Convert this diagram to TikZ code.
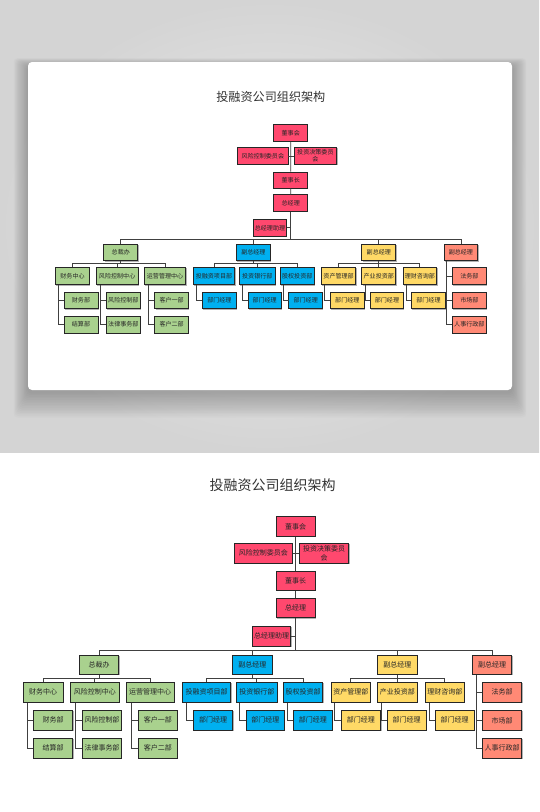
\documentclass[tikz,border=0pt]{standalone}
\usepackage{fontspec}
\setmainfont{Noto Sans CJK SC}
\usetikzlibrary{shadows}
\definecolor{cpink}{RGB}{255,72,110}
\definecolor{cgreen}{RGB}{169,209,142}
\definecolor{cblue}{RGB}{0,176,240}
\definecolor{cyellow}{RGB}{255,217,102}
\definecolor{csalmon}{RGB}{255,137,117}
\definecolor{bgin}{RGB}{236,236,236}
\definecolor{bgout}{RGB}{212,212,212}
\tikzset{
  box/.style={draw=black!85, line width=0.8pt, inner sep=0pt, minimum height=19.4pt,
    text=black!85, font=\fontsize{7}{8.3}\selectfont, align=center,
    drop shadow={shadow xshift=0.8pt, shadow yshift=-0.8pt, fill=black, opacity=0.3}},
  pinkbox/.style={box, fill=cpink},
  greenbox/.style={box, fill=cgreen},
  bluebox/.style={box, fill=cblue},
  yellowbox/.style={box, fill=cyellow},
  salmonbox/.style={box, fill=csalmon},
  ln/.style={draw=black!75, line width=0.8pt},
  ttl/.style={font=\fontsize{14}{16}\selectfont, text=black!80, inner sep=0pt},
}
\newcommand\orgchart{%
  \coordinate (bus) at (0,650);
  \coordinate (sub) at (0,678);
  \node[ttl] (title) at (272.5,485) {投融资公司组织架构};
  % pink column
  \node[pinkbox, minimum width=39] (dsh) at (295.5,526.5) {董事会};
  \node[pinkbox, minimum width=58, minimum height=20] (fx) at (263.3,553.3) {风险控制委员会};
  \node[pinkbox, minimum width=49.4, minimum height=20] (tz) at (324,553.3) {投资决策委员\\会};
  \node[pinkbox, minimum width=39, minimum height=18.5] (dsz) at (295.5,581) {董事长};
  \node[pinkbox, minimum width=39] (zjl) at (295.5,608) {总经理};
  \node[pinkbox, minimum width=38.4] (zl) at (271.5,636.3) {总经理助理};
  % level 2
  \node[greenbox, minimum width=39.4] (zcb) at (99,664.7) {总裁办};
  \node[bluebox, minimum width=39.3] (fz1) at (252.3,664.7) {副总经理};
  \node[yellowbox, minimum width=39.3] (fz2) at (397.3,664.7) {副总经理};
  \node[salmonbox, minimum width=39] (fz3) at (492.2,664.7) {副总经理};
  % level 3
  \node[greenbox, minimum width=39.7, minimum height=20] (cwzx) at (43.2,692.3) {财务中心};
  \node[greenbox, minimum width=48.3, minimum height=20] (fkzx) at (94.8,692.3) {风险控制中心};
  \node[greenbox, minimum width=47.7, minimum height=20] (yyzx) at (150.2,692.3) {运营管理中心};
  \node[bluebox, minimum width=48, minimum height=20] (trz) at (206.7,692.3) {投融资项目部};
  \node[bluebox, minimum width=41.7, minimum height=20] (tzyh) at (256.8,692.3) {投资银行部};
  \node[bluebox, minimum width=39.4, minimum height=20] (gq) at (303,692.3) {股权投资部};
  \node[yellowbox, minimum width=39.7, minimum height=20] (zc) at (350.8,692.3) {资产管理部};
  \node[yellowbox, minimum width=39.3, minimum height=20] (cy) at (397.3,692.3) {产业投资部};
  \node[yellowbox, minimum width=39, minimum height=20] (lc) at (444.8,692.3) {理财咨询部};
  \node[salmonbox, minimum width=39.4, minimum height=20] (fw) at (502,692.3) {法务部};
  % level 4
  \node[greenbox, minimum width=39.4] (cwb) at (53,720.3) {财务部};
  \node[greenbox, minimum width=39.4] (jsb) at (53,748.3) {结算部};
  \node[greenbox, minimum width=38.6] (fkb) at (102,720.3) {风险控制部};
  \node[greenbox, minimum width=38.6] (flb) at (102,748.3) {法律事务部};
  \node[greenbox, minimum width=39] (kh1) at (157.8,720.3) {客户一部};
  \node[greenbox, minimum width=39] (kh2) at (157.8,748.3) {客户二部};
  \node[bluebox, minimum width=39.4] (bm1) at (213,720.3) {部门经理};
  \node[bluebox, minimum width=38.7] (bm2) at (265.3,720.3) {部门经理};
  \node[bluebox, minimum width=39] (bm3) at (312.8,720.3) {部门经理};
  \node[yellowbox, minimum width=39.8] (bm4) at (360.9,720.3) {部门经理};
  \node[yellowbox, minimum width=38.5] (bm5) at (406.7,720.3) {部门经理};
  \node[yellowbox, minimum width=39.3] (bm6) at (454.7,720.3) {部门经理};
  \node[salmonbox, minimum width=39.4] (sc) at (502,720.3) {市场部};
  \node[salmonbox, minimum width=39.4] (rs) at (502,748.3) {人事行政部};
  % connectors: pink column
  \draw[ln] (dsh) -- (dsz);
  \draw[ln] (dsz) -- (zjl);
  \draw[ln] (zjl.south) -- (zjl.south|-bus);
  \draw[ln] (fx.east) -- (tz.west);
  \draw[ln] (zl.east) -- (zl.east-|zjl.south);
  % main bus
  \draw[ln] (zcb.north) -- (zcb.north|-bus) -- (fz3.north|-bus) -- (fz3.north);
  \draw[ln] (fz1.north) -- (fz1.north|-bus);
  \draw[ln] (fz2.north) -- (fz2.north|-bus);
  % green group
  \draw[ln] (zcb.south) -- (zcb.south|-sub);
  \draw[ln] (cwzx.north) -- (cwzx.north|-sub) -- (yyzx.north|-sub) -- (yyzx.north);
  \draw[ln] (fkzx.north) -- (fkzx.north|-sub);
  \draw[ln] ([xshift=4.5pt]cwzx.south west) |- (cwb.west);
  \draw[ln] ([xshift=4.5pt]cwzx.south west) |- (jsb.west);
  \draw[ln] ([xshift=5pt]fkzx.south west) |- (fkb.west);
  \draw[ln] ([xshift=5pt]fkzx.south west) |- (flb.west);
  \draw[ln] ([xshift=5.3pt]yyzx.south west) |- (kh1.west);
  \draw[ln] ([xshift=5.3pt]yyzx.south west) |- (kh2.west);
  % blue group
  \draw[ln] (fz1.south) -- (fz1.south|-sub);
  \draw[ln] (trz.north) -- (trz.north|-sub) -- (gq.north|-sub) -- (gq.north);
  \draw[ln] (tzyh.north) -- (tzyh.north|-sub);
  \draw[ln] ([xshift=4pt]trz.south west) |- (bm1.west);
  \draw[ln] ([xshift=4.3pt]tzyh.south west) |- (bm2.west);
  \draw[ln] ([xshift=4.4pt]gq.south west) |- (bm3.west);
  % yellow group
  \draw[ln] (fz2.south) -- (fz2.south|-sub);
  \draw[ln] (zc.north) -- (zc.north|-sub) -- (lc.north|-sub) -- (lc.north);
  \draw[ln] (cy.north) -- (cy.north|-sub);
  \draw[ln] ([xshift=4pt]zc.south west) |- (bm4.west);
  \draw[ln] ([xshift=4.3pt]cy.south west) |- (bm5.west);
  \draw[ln] ([xshift=4.7pt]lc.south west) |- (bm6.west);
  % salmon group
  \draw[ln] ([xshift=3.6pt]fz3.south west) |- (fw.west);
  \draw[ln] ([xshift=3.6pt]fz3.south west) |- (sc.west);
  \draw[ln] ([xshift=3.6pt]fz3.south west) |- (rs.west);
}
\begin{document}
\begin{tikzpicture}[x=1pt,y=-1pt]
  \useasboundingbox (0,0) rectangle (539,812);
  \fill[white] (0,0) rectangle (539,812);
  \shade[inner color=bgin, outer color=bgout] (0,0) rectangle (539,452);
  % soft card shadow
  \foreach \i in {1,...,16}{
    \fill[black, opacity=0.016, rounded corners=4pt]
      ({28-0.9*\i},{66-0.5*\i}) rectangle ({512+0.9*\i},{392+1.6*\i});
  }
  \fill[white, rounded corners=4pt] (28,62) rectangle (512,390);
  \begin{scope}[shift={(35.15,-322.65)}, scale=0.865, transform shape, name prefix=t-]
    \orgchart
  \end{scope}
  \begin{scope}[name prefix=b-]
    \orgchart
  \end{scope}
\end{tikzpicture}
\end{document}
